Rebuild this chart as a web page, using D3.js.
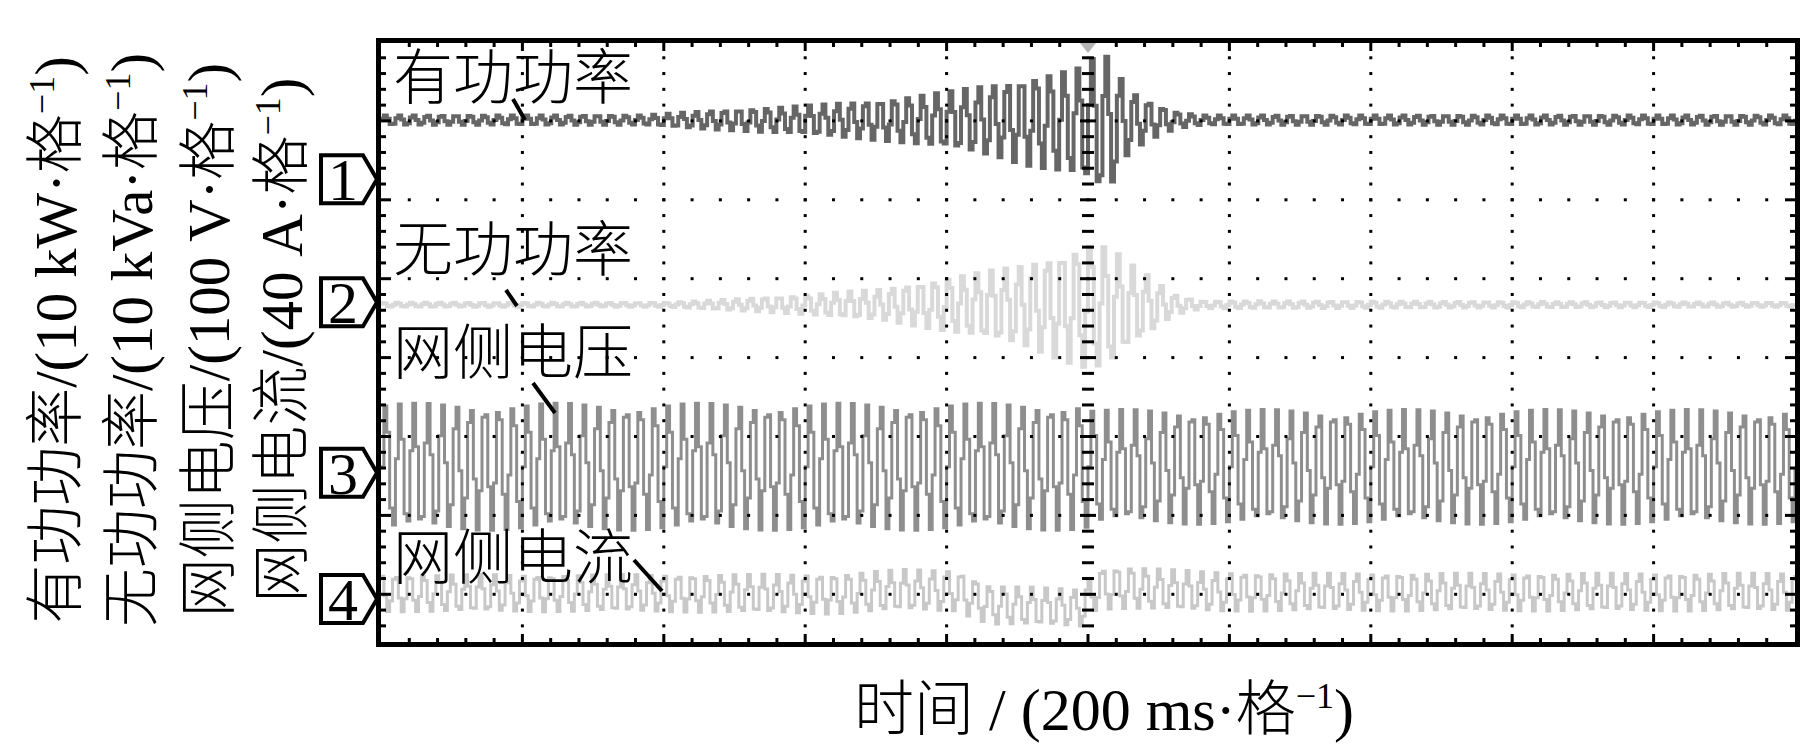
<!DOCTYPE html>
<html>
<head>
<meta charset="utf-8">
<script src="https://cdn.jsdelivr.net/npm/d3@7/dist/d3.min.js"></script>
<style>
body { margin: 0; background: #fff; }
svg { display: block; }
text { font-family: "Liberation Serif", "Times New Roman", "Noto Sans CJK SC", serif; font-weight: 300; }
</style>
</head>
<body>
<svg width="1820" height="747"></svg>
<script>
// ---- values ----
var chNames = ["有功功率", "无功功率", "网侧电压", "网侧电流"];
var chUnits = ["10 kW", "10 kVa", "100 V", "40 A"];
var chPerDiv = [10, 10, 100, 40];
var chIds = ["1", "2", "3", "4"];
var xTitle = "时间 / (200 ms·格";
var spanMs = 2000;      // 10 div x 200 ms
var gridHz = 50;        // line frequency
var nDots = 490;        // scope display points across the screen

// active power, kW (envelope of the oscillation)
var pTime = [0, 370, 450, 580, 710, 800, 875, 905, 945, 985, 1010, 1030, 1050, 1070, 1100, 1125, 1160, 2000];
var pMean = [7.5, 7.5, 7.5, 7.5, 7.5, 7.5, 7.5, 7.4, 7.3, 7.2, 7.0, 7.0, 7.3, 7.4, 7.5, 7.5, 7.5, 7.5];
var pAmp  = [0.6, 0.6, 1.1, 1.7, 2.6, 3.6, 4.8, 5.5, 6.2, 6.9, 8.6, 8.6, 4.7, 3.2, 1.8, 1.0, 0.6, 0.6];
// reactive power, kVar
var qTime = [0, 400, 480, 580, 710, 800, 905, 960, 1003, 1031, 1054, 1088, 1119, 1158, 2000];
var qMean = [-0.3, -0.3, -0.3, -0.3, -0.3, -0.3, -0.4, -0.5, -0.5, -0.5, -0.4, -0.3, -0.3, -0.3, -0.3];
var qAmp  = [0.25, 0.25, 0.6, 1.1, 2.0, 3.4, 5.1, 6.8, 8.2, 7.4, 5.5, 3.4, 1.3, 0.45, 0.25];
// grid voltage, V
var vTime = [0, 995, 1005, 2000];
var vMean = [7.6, 7.6, 7.6, 7.6];
var vAmp  = [80.5, 80.5, 72.7, 72.7];
// grid current, A
var iTime = [0, 380, 640, 730, 810, 860, 990, 1000, 1010, 1060, 1160, 1300, 2000];
var iMean = [3.0, 3.0, 2.5, 4.6, 4.3, -3.0, -4.6, 0.5, 5.1, 5.8, 3.8, 3.5, 3.5];
var iAmp  = [9.4, 9.4, 10.1, 10.4, 10.4, 9.9, 9.4, 9.4, 10.4, 10.6, 10.1, 9.6, 9.6];

var chData = [[pTime, pMean, pAmp], [qTime, qMean, qAmp], [vTime, vMean, vAmp], [iTime, iMean, iAmp]];

// ---- scope settings / layout ----
var chRefDiv = [1.74, 3.30, 5.46, 7.06];   // channel ground markers, div from top
var chPhase = [0.3, 1.2, 0, 2.0];
var chColor = ["#666666", "#d9d9d9", "#8e8e8e", "#c8c8c8"];
var chWidth = [4, 4, 3, 3];

var svg = d3.select("svg");
var plotL = 381, plotR = 1795, plotT = 43, plotB = 642;

var x = d3.scaleLinear().domain([0, spanMs]).range([plotL, plotR]);
var yDiv = d3.scaleLinear().domain([0, 8]).range([42, 42 + 8 * 78.9]);

function traceOf(c) {
  var d = chData[c];
  var m = d3.scaleLinear().domain(d[0]).range(d[1]).clamp(true);
  var a = d3.scaleLinear().domain(d[0]).range(d[2]).clamp(true);
  return d3.range(nDots + 1).map(function (n) {
    var t = n * spanMs / nDots;
    return { t: t, v: m(t) + a(t) * Math.sin(2 * Math.PI * gridHz * t / 1000 + chPhase[c]) };
  });
}

svg.append("defs").append("clipPath").attr("id", "screen")
  .append("rect").attr("x", plotL).attr("y", plotT)
  .attr("width", plotR - plotL).attr("height", plotB - plotT);

var traces = svg.append("g").attr("clip-path", "url(#screen)");
chNames.forEach(function (name, c) {
  var line = d3.line()
    .x(function (d) { return x(d.t); })
    .y(function (d) { return yDiv(chRefDiv[c] - d.v / chPerDiv[c]); })
    .curve(d3.curveStepAfter);
  traces.append("path")
    .datum(traceOf(c))
    .attr("d", line)
    .attr("fill", "none")
    .attr("stroke", chColor[c])
    .attr("stroke-width", chWidth[c]);
});

// ---- graticule ----
var grid = svg.append("g").attr("fill", "#000");
var minorY = d3.range(1, 40).map(function (j) { return j / 5; }).filter(function (v) { return yDiv(v) < plotB - 2; });
var minorX = d3.range(1, 50).map(function (j) { return j * spanMs / 50; });

// vertical dotted lines
d3.range(1, 10).forEach(function (k) {
  var xx = x(k * 200);
  minorY.forEach(function (v) {
    var major = Math.abs(v - Math.round(v)) < 1e-6;
    if (k === 5) {
      var w = major ? 16 : 12;
      grid.append("rect").attr("x", xx - w / 2).attr("y", yDiv(v) - 1.5).attr("width", w).attr("height", 3);
    } else {
      grid.append("rect").attr("x", xx - 1.5).attr("y", yDiv(v) - 1.5).attr("width", 3).attr("height", 3);
    }
  });
});
// horizontal dotted lines
d3.range(1, 8).forEach(function (r) {
  var yy = yDiv(r);
  minorX.forEach(function (t) {
    grid.append("rect").attr("x", x(t) - 1.5).attr("y", yy - 1.5).attr("width", 3).attr("height", 3);
  });
});
// border ticks
minorY.forEach(function (v) {
  var major = Math.abs(v - Math.round(v)) < 1e-6;
  var len = major ? 10 : 5;
  grid.append("rect").attr("x", plotL).attr("y", yDiv(v) - 1.5).attr("width", len).attr("height", 3);
  grid.append("rect").attr("x", plotR - len).attr("y", yDiv(v) - 1.5).attr("width", len).attr("height", 3);
});
minorX.forEach(function (t, i) {
  var major = (i + 1) % 5 === 0;
  var len = major ? 8 : 4;
  grid.append("rect").attr("x", x(t) - 1.5).attr("y", plotT).attr("width", 3).attr("height", len);
  grid.append("rect").attr("x", x(t) - 1.5).attr("y", plotB - len).attr("width", 3).attr("height", len);
});

// trigger position marker
var xt = x(spanMs / 2);
svg.append("path")
  .attr("d", "M" + (xt - 8) + "," + plotT + "L" + (xt + 8) + "," + plotT + "L" + xt + "," + (plotT + 10) + "Z")
  .attr("fill", "#b4b4b4");

// frame
svg.append("rect")
  .attr("x", 378.5).attr("y", 40.5)
  .attr("width", 1797.5 - 378.5).attr("height", 644.5 - 40.5)
  .attr("fill", "none").attr("stroke", "#000").attr("stroke-width", 5);

// channel ground markers
chIds.forEach(function (id, c) {
  var cy = yDiv(chRefDiv[c]);
  svg.append("path")
    .attr("d", "M321," + (cy - 24) + "H363L377," + cy + "L363," + (cy + 24) + "H321Z")
    .attr("fill", "#fff").attr("stroke", "#000").attr("stroke-width", 4);
  svg.append("text")
    .attr("x", 343).attr("y", cy + 21)
    .attr("text-anchor", "middle")
    .attr("font-size", 60)
    .text(id);
});

// trace labels with leader lines
var labelBase = [99, 271, 374, 579];
var leaders = [[513, 99, 525, 120], [506, 290, 517, 306], [533, 383, 555, 413], [634, 560, 662, 591]];
chNames.forEach(function (name, c) {
  svg.append("text")
    .attr("x", 393).attr("y", labelBase[c])
    .attr("font-size", 60)
    .text(name);
  var l = leaders[c];
  svg.append("line")
    .attr("x1", l[0]).attr("y1", l[1]).attr("x2", l[2]).attr("y2", l[3])
    .attr("stroke", "#000").attr("stroke-width", 4);
});

// y titles (rotated)
var yTitleX = [76, 152, 229, 302];
chNames.forEach(function (name, c) {
  var t = svg.append("text")
    .attr("transform", "translate(" + yTitleX[c] + ",340) rotate(-90)")
    .attr("text-anchor", "middle")
    .attr("font-size", 59);
  t.append("tspan").text(name + "/(" + chUnits[c] + "·格");
  t.append("tspan").attr("font-size", 36).attr("dy", -22).text("−1");
  t.append("tspan").attr("dy", 22).text(")");
});

// x title
var xt2 = svg.append("text")
  .attr("x", 1104).attr("y", 730)
  .attr("text-anchor", "middle")
  .attr("font-size", 60);
xt2.append("tspan").text(xTitle);
xt2.append("tspan").attr("font-size", 36).attr("dy", -22).text("−1");
xt2.append("tspan").attr("dy", 22).text(")");
</script>
</body>
</html>
